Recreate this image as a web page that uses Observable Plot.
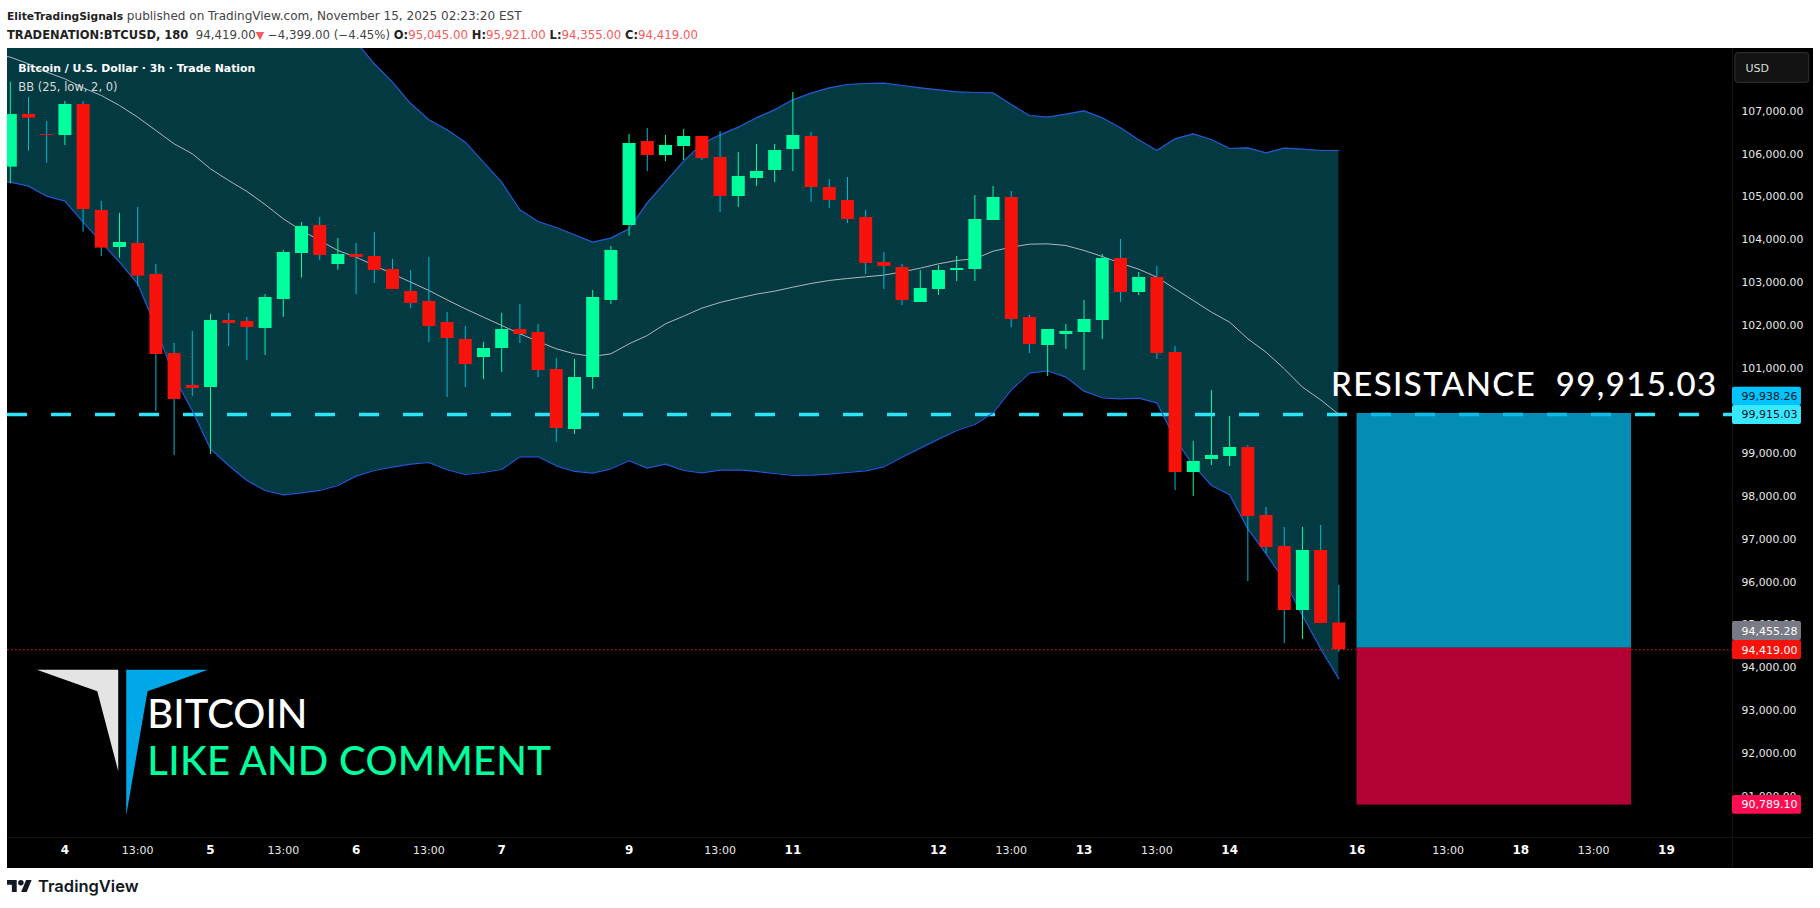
<!DOCTYPE html>
<html><head><meta charset="utf-8">
<script src="https://cdn.jsdelivr.net/npm/d3@7"></script>
<script src="https://cdn.jsdelivr.net/npm/@observablehq/plot@0.6"></script>
<style>
html,body{margin:0;padding:0;background:#fff;overflow:hidden;width:1820px;height:908px}
#head{height:48px;box-sizing:border-box;padding:7px 0 0 7px;font:11.75px "DejaVu Sans",sans-serif;color:#444;line-height:19px;white-space:nowrap}
#head b{color:#222;font-size:11.5px}
#head .first{font-size:12.05px}
#head .first b{font-size:10.7px}
#head .r{color:#f45b5b}
#chart{margin-left:7px;height:820px}
#chart svg{display:block}
#foot{height:40px;position:relative;display:flex;align-items:center;padding-left:7px;padding-bottom:4px;box-sizing:border-box;font:600 16.5px Inter,sans-serif;color:#131722}
#foot svg{width:25px;height:12.5px;margin-right:6px}
.res text{letter-spacing:1.4px;white-space:pre}
.cta text{letter-spacing:.3px}
</style></head><body>
<div id="head">
<div class="first"><b>EliteTradingSignals</b> published on TradingView.com, November 15, 2025 02:23:20 EST</div>
<div><b>TRADENATION:BTCUSD, 180</b>&nbsp; 94,419.00<span class="r" style="font-size:11px">&#9660;</span> −4,399.00 (−4.45%) <b>O:</b><span class="r">95,045.00</span> <b>H:</b><span class="r">95,921.00</span> <b>L:</b><span class="r">94,355.00</span> <b>C:</b><span class="r">94,419.00</span></div>
</div>
<div id="chart"></div>
<div id="foot"><svg viewBox="0 4 36 18"><path fill="#131722" d="M14 22H7V11H0V4h14v18zM28 22h-8l7.5-18h8L28 22z"/><circle fill="#131722" cx="20" cy="8" r="4"/></svg>TradingView</div>
<script>
// OHLC of the 3h candles, bar 0 to bar 73
const opens=[105694,106925,106457,106434,107158,104682,103817,103910,103186,101341,100593,100546,102112,102088,101925,102602,103677,104331,103420,103654,103607,103303,102789,102555,102065,101668,101247,101457,101901,101831,100967,99565,100780,102579,104331,106293,105966,106176,106410,105919,105008,105429,105616,106106,106410,105219,104915,104518,103466,103349,102532,102835,103279,103303,104447,104985,102181,101527,101784,101831,102111,103560,102765,103116,101364,98560,98863,98933,99144,97555,96831,95335,96737,95045];
const highs=[107680,107322,106761,107228,107228,104892,104611,104752,103420,101574,101855,102252,102275,102182,102719,103747,104401,104518,104027,103910,104168,103537,103280,103584,102299,101971,101598,102275,102485,102018,101224,101200,102812,103840,106457,106597,106433,106574,106410,106527,106036,106223,106223,107438,106504,105405,105452,104681,103700,103420,103279,103396,103606,105032,105242,105125,102228,101901,102018,102578,103653,104004,103233,103373,101504,99284,100476,99868,99190,97742,97275,97275,97321,95921];
const lows=[105305,106068,105787,106200,104175,103607,103568,102906,99985,98957,100336,98981,101504,101177,101294,102182,103101,103513,103287,102719,102976,102836,102392,101598,100312,100546,100733,100897,101574,100780,99261,99448,100499,102485,104081,105592,105826,105849,105849,104634,104751,105242,105335,105592,104868,104728,104377,103186,102835,102462,102532,102695,103022,103022,104447,101947,101340,100803,101434,100943,101667,102532,102695,101200,98139,98000,98723,98700,96013,96659,94564,94658,95032,94355];
const closes=[106925,106839,106434,107158,104705,103802,103934,103147,101317,100266,100523,102112,102041,101948,102649,103700,104308,103630,103654,103584,103280,102836,102509,101971,101691,101083,101457,101901,101784,100943,99588,100780,102649,103747,106247,105966,106200,106410,105896,105008,105476,105592,106083,106433,105219,104915,104471,103443,103373,102578,102859,103279,103326,104471,104985,102134,101550,101901,101854,102134,103560,102765,103116,101340,98560,98817,98957,99144,97531,96807,95335,96737,95032,94419];
// Bollinger band, bar -1 to bar 73 (first 21 upper values lie above the panel)
const bbUpper=[111600,111550,111480,111420,111350,111280,111200,111120,111040,110950,110860,110770,110680,110580,110470,110350,110220,110060,109780,109240,108620,108109,107680,107180,106800,106567,106277,105810,105343,104697,104424,104284,104113,103941,104035,104253,104860,105343,105834,106239,106449,106628,106846,107033,107267,107423,107547,107625,107648,107656,107602,107547,107500,107454,107438,107430,107158,106901,106862,106932,107010,106846,106613,106332,106083,106356,106472,106340,106130,106145,106028,106137,106114,106083,106083];
const bbMiddle=[108342,108264,108108,107914,107758,107548,107368,107135,106862,106551,106239,106006,105655,105382,105126,104822,104487,104214,103981,103747,103591,103397,103202,103007,102812,102594,102384,102189,101995,101800,101621,101450,101333,101270,101333,101566,101761,102034,102213,102400,102532,102633,102727,102797,102890,102976,103046,103093,103132,103171,103248,103334,103435,103513,103552,103731,103824,103895,103902,103863,103747,103606,103451,103310,103124,102851,102578,102306,102072,101683,101371,100982,100553,100258,99915];
const bbLower=[105382,105344,105250,105016,104900,104409,103942,103474,102968,101956,100788,100009,99113,98724,98373,98140,98038,98085,98140,98257,98475,98607,98685,98755,98794,98623,98513,98560,98630,98926,98926,98716,98584,98545,98646,98833,98661,98755,98607,98552,98615,98623,98584,98537,98490,98498,98521,98560,98599,98693,98918,99129,99339,99541,99682,99954,100492,100881,100936,100788,100460,100305,100281,100297,100188,99347,98724,98257,98038,97243,96659,96036,95218,94440,93739];
// Levels
const resistance=99915.03, lastPrice=94419, entry=94455.28, target=99938.26, stop=90789.10;
const boxStart=74, boxEnd=89.08;
// Axis ticks
const priceTicks=[107000,106000,105000,104000,103000,102000,101000,99000,98000,97000,96000,95000,94000,93000,92000,91000];
const dayTickBars=[3,11,19,27,34,43,51,59,67,74,83,91];
const dayTickLabels=["4","5","6","7","9","11","12","13","14","16","18","19"];
const hourTickBars=[7,15,23,39,55,63,79,87];
// Price tags on the axis
const tagLabels=["99,938.26","99,915.03","94,455.28","94,419.00","90,789.10"];
const tagTops=[100553,100125,95079,94635,91013];
const tagBottoms=[100125,99681,94635,94191,90576];
const tagMids=[100340,99915,94857,94413,90794];
const tagFills=["#00c3ff","#38e8ff","#787b86","#f7120c","#ff0d52"];
const tagInk=["#131722","#131722","#ffffff","#ffffff","#ffffff"];
// Logo outline in bar / price units
const logoGrayX=[1.46,5.93,5.93,4.78], logoGrayY=[93950,93950,91581,93450];
const logoBlueX=[6.37,10.86,7.54,6.37], logoBlueY=[93950,93950,93450,90546];

const bars=opens.map((o,i)=>({i,o,h:highs[i],l:lows[i],c:closes[i]}));
const bands=bbUpper.map((u,k)=>({i:k-1,u,m:bbMiddle[k],l:bbLower[k]}));
const tags=tagLabels.map((t,k)=>({t,y1:tagTops[k],y2:tagBottoms[k],m:tagMids[k],f:tagFills[k],ink:tagInk[k]}));
const isUp=d=>d.c>=d.o;
const isDown=d=>d.c<d.o;
const font="DejaVu Sans";
const UP="#00ff9d",DOWN="#f7120c",WICK="#05b8d4",BAND="#033a42",BLUE="#2457d6",MID="#b2b5be",LINE="#141414";
const tagL=94.63,tagR=98.42;

const chart=Plot.plot({
  width:1806,height:820,marginTop:0,marginLeft:0,marginRight:81,marginBottom:31,
  style:{background:"#000",fontFamily:font},
  x:{domain:[-0.154,94.63],axis:null},
  y:{domain:[90032,108466],axis:null},
  marks:[
    Plot.areaY(bands,{x:"i",y1:"l",y2:"u",fill:BAND,clip:true}),
    Plot.ruleY([lastPrice],{stroke:DOWN,strokeDasharray:"1.5,2.5",strokeWidth:1}),
    Plot.ruleY([resistance],{stroke:"#2fe3f7",strokeWidth:3.4,strokeDasharray:"20,24"}),
    Plot.ruleX([tagL],{y1:108466,y2:88000,stroke:LINE}),
    Plot.ruleY([90032],{x1:-1,x2:100,stroke:LINE}),
    Plot.line(bands,{x:"i",y:"m",stroke:MID,strokeWidth:1,clip:true}),
    Plot.line(bands,{x:"i",y:"u",stroke:BLUE,strokeWidth:1.2,clip:true}),
    Plot.line(bands,{x:"i",y:"l",stroke:BLUE,strokeWidth:1.2,clip:true}),
    Plot.ruleX(bars,{filter:isDown,x:"i",y1:"l",y2:"h",stroke:WICK,strokeWidth:1}),
    Plot.ruleX(bars,{filter:isUp,x:"i",y1:"l",y2:"h",stroke:UP,strokeWidth:1}),
    Plot.ruleX(bars,{filter:isDown,x:"i",y1:"o",y2:"c",stroke:DOWN,strokeWidth:13}),
    Plot.ruleX(bars,{filter:isUp,x:"i",y1:"o",y2:"c",stroke:UP,strokeWidth:13}),
    Plot.rect([0],{x1:boxStart,x2:boxEnd,y1:target,y2:entry,fill:"#04b0e1",fillOpacity:0.8}),
    Plot.rect([0],{x1:boxStart,x2:boxEnd,y1:entry,y2:stop,fill:"#dd0240",fillOpacity:0.8}),
    Plot.line(logoGrayX.map((x,k)=>({x,y:logoGrayY[k]})),{x:"x",y:"y",fill:"#e4e4e4",stroke:"none"}),
    Plot.line(logoBlueX.map((x,k)=>({x,y:logoBlueY[k]})),{x:"x",y:"y",fill:"#00a8e8",stroke:"none"}),
    Plot.text(["Bitcoin / U.S. Dollar · 3h · Trade Nation"],{frameAnchor:"top-left",lineAnchor:"middle",dx:10.8,dy:19.7,fill:"#fff",fontSize:10.9,fontWeight:"bold"}),
    Plot.text(["BB (25, low, 2, 0)"],{frameAnchor:"top-left",lineAnchor:"middle",dx:10.8,dy:39,fill:"#d8d8d8",fontSize:11.5}),
    Plot.text(["RESISTANCE  99,915.03"],{x:72.57,y:100593,textAnchor:"start",fill:"#fff",fontSize:33,fontFamily:"Lato",fontWeight:500,className:"res"}),
    Plot.text(["BITCOIN"],{x:7.53,y:92894,textAnchor:"start",fill:"#fff",fontSize:40,fontFamily:"Lato",fontWeight:500}),
    Plot.text(["LIKE AND COMMENT"],{x:7.53,y:91791,textAnchor:"start",fill:UP,fontSize:40,fontFamily:"Lato",fontWeight:500,className:"cta"}),
    Plot.axisY(priceTicks,{anchor:"right",tickSize:0,tickPadding:9,tickFormat:d3.format(",.2f"),fill:"#e8e8e8",fontSize:10.8,fontFamily:font,label:null}),
    Plot.axisX(dayTickBars,{anchor:"bottom",tickSize:0,tickPadding:8,tickFormat:d=>dayTickLabels[dayTickBars.indexOf(d)],fill:"#fff",fontSize:12,fontWeight:"bold",fontFamily:font,label:null}),
    Plot.axisX(hourTickBars,{anchor:"bottom",tickSize:0,tickPadding:9,tickFormat:()=>"13:00",fill:"#e8e8e8",fontSize:11,fontFamily:font,label:null}),
    Plot.rect(tags,{x1:tagL,x2:tagR,y1:"y1",y2:"y2",fill:d=>d.f,rx:2}),
    Plot.text(tags,{x:tagL,y:"m",text:"t",dx:9,textAnchor:"start",fill:d=>d.ink,fontSize:11,fontFamily:font}),
    Plot.rect([0],{x1:94.79,x2:98.85,y1:108357,y2:107665,fill:"#131313",stroke:"#333",rx:3}),
    Plot.text(["USD"],{x:95.34,y:108011,textAnchor:"start",fill:"#ddd",fontSize:11,fontFamily:font})
  ]
});
document.getElementById("chart").append(chart);
</script>
</body></html>
